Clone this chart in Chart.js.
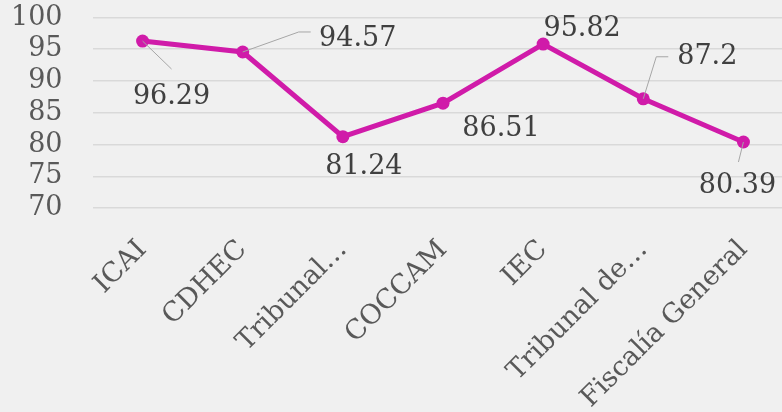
<!DOCTYPE html>
<html>
<head>
<meta charset="utf-8">
<script src="https://cdn.jsdelivr.net/npm/chart.js@4.4.1/dist/chart.umd.min.js"></script>
<style>
  html, body { margin: 0; padding: 0; background: #f0f0f0; overflow: hidden; }
  #wrap { width: 800px; height: 412px; position: relative; }
</style>
</head>
<body>
<div id="wrap"><canvas id="c"></canvas></div>
<script>
const categories = ["ICAI", "CDHEC", "Tribunal…", "COCCAM", "IEC", "Tribunal de…", "Fiscalía General"];
const values = [96.29, 94.57, 81.24, 86.51, 95.82, 87.2, 80.39];
const yTicks = [70, 75, 80, 85, 90, 95, 100];

// label placement (pixel offsets from each point) and leader lines
const labelOffsets = [[29, 56], [115, -13], [21, 30], [58, 26], [39, -15], [64, -42], [-6, 44]];
const leaders = {
  0: [[0, 0], [29, 28]],
  1: [[0, 0], [56, -20], [68, -20]],
  5: [[0, 0], [13, -42], [25, -42]],
  6: [[0, 0], [-5, 20]]
};

const FONT = "'DejaVu Serif', 'Liberation Serif', serif";
const TEXT = '#595959';
const LINE = '#d01ba9';

const labelPlugin = {
  id: 'labels',
  afterDatasetsDraw(chart) {
    const ctx = chart.ctx;
    const meta = chart.getDatasetMeta(0);
    ctx.save();
    meta.data.forEach((pt, i) => {
      const L = leaders[i];
      if (L) {
        ctx.beginPath();
        ctx.strokeStyle = '#a6a6a6';
        ctx.lineWidth = 1;
        L.forEach((p, k) => {
          if (k === 0) ctx.moveTo(pt.x + p[0], pt.y + p[1]);
          else ctx.lineTo(pt.x + p[0], pt.y + p[1]);
        });
        ctx.stroke();
      }
    });
    meta.data.forEach((pt, i) => {
      ctx.fillStyle = '#404040';
      ctx.font = "27px " + FONT;
      ctx.textAlign = 'center';
      ctx.textBaseline = 'middle';
      ctx.fillText(String(values[i]), pt.x + labelOffsets[i][0], pt.y + labelOffsets[i][1]);
    });
    ctx.restore();
  }
};

new Chart(document.getElementById('c'), {
  type: 'line',
  data: {
    labels: categories,
    datasets: [{
      data: values,
      borderColor: LINE,
      backgroundColor: LINE,
      borderWidth: 5,
      pointRadius: 6.5,
      pointHoverRadius: 6.5,
      pointBackgroundColor: LINE,
      pointBorderWidth: 0,
      tension: 0
    }]
  },
  options: {
    responsive: true,
    maintainAspectRatio: false,
    animation: false,
    events: [],
    layout: { padding: { top: 17.5, left: 0, right: 0, bottom: 0 } },
    plugins: { legend: { display: false }, tooltip: { enabled: false } },
    scales: {
      x: {
        offset: true,
        grid: { display: false, drawTicks: false },
        border: { display: false },
        ticks: {
          autoSkip: false,
          maxRotation: 45,
          minRotation: 45,
          color: TEXT,
          padding: 26,
          font: { family: FONT, size: 27 }
        },
        afterFit(s) { s.height = 204; s.paddingLeft = 0; s.paddingRight = 0; }
      },
      y: {
        min: 70,
        max: 100,
        afterBuildTicks(s) { s.ticks = yTicks.map(v => ({ value: v })); },
        grid: { color: '#d9d9d9', lineWidth: 1.5, drawTicks: false },
        border: { display: false },
        ticks: {
          autoSkip: false,
          color: TEXT,
          padding: 30,
          font: { family: FONT, size: 27 }
        },
        afterFit(s) { s.width = 92.5; s.paddingTop = 0; s.paddingBottom = 0; }
      }
    }
  },
  plugins: [labelPlugin]
});
</script>
</body>
</html>
